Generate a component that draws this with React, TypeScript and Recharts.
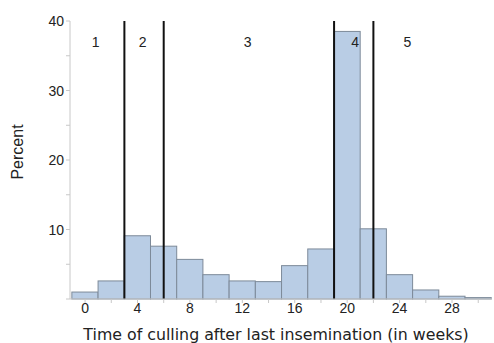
import React from "react";
import {
  ComposedChart, Bar, XAxis, YAxis, ReferenceLine, ReferenceDot,
} from "recharts";

// histogram: bar centres (weeks) and percent of cows
const weeks = [0, 2, 4, 6, 8, 10, 12, 14, 16, 18, 20, 22, 24, 26, 28, 30];
const percent = [1.0, 2.6, 9.1, 7.6, 5.7, 3.5, 2.6, 2.5, 4.8, 7.2, 38.5, 10.1, 3.5, 1.3, 0.4, 0.2];

// period boundaries and their labels
const cutoffs = [3, 6, 19, 22];
const periodLabels = ["1", "2", "3", "4", "5"];
const periodX = [0.8, 4.4, 12.4, 20.6, 24.6];
const periodY = 37;

const xTicks = [0, 2, 4, 6, 8, 10, 12, 14, 16, 18, 20, 22, 24, 26, 28, 30];
const xMajor = [0, 4, 8, 12, 16, 20, 24, 28];
const yTicks = [0, 5, 10, 15, 20, 25, 30, 35, 40];
const yMajor = [10, 20, 30, 40];

const W = 494;
const H = 343;
const M = { top: 21, right: 2, bottom: 0, left: 30 };
const X_H = 44;
const Y_W = 40;
const X_DOMAIN: [number, number] = [-1.15, 31.05];
const plotW = W - M.left - Y_W - M.right;
const barW = (2 * plotW) / (X_DOMAIN[1] - X_DOMAIN[0]);

const data = weeks.map((w, i) => ({ week: w, pct: percent[i] }));

const tickFont = "Liberation Sans";

const XTick = (p: any) => {
  const v = p.payload.value;
  if (!xMajor.includes(v)) return null;
  return (
    <text x={p.x} y={p.y + 8} textAnchor="middle" fontSize={14} fill="#222" fontFamily={tickFont}>
      {v}
    </text>
  );
};

const YTick = (p: any) => {
  const v = p.payload.value;
  if (!yMajor.includes(v)) return null;
  return (
    <text x={p.x} y={p.y + 5} textAnchor="end" fontSize={14} fill="#222" fontFamily={tickFont}>
      {v}
    </text>
  );
};

// histogram bins touch each other: keep the centre recharts gives, use full bin width
const HistBar = (p: any) => {
  const cx = p.x + p.width / 2;
  return (
    <rect
      x={cx - barW / 2}
      y={p.y}
      width={barW}
      height={Math.max(p.height, 0)}
      fill="#b9cde5"
      stroke="#7d8a99"
      strokeWidth={1}
    />
  );
};

const YTitle = (p: any) => {
  const vb = p.viewBox;
  const cx = 17;
  const cy = vb.y + vb.height / 2 - 8;
  return (
    <text
      x={cx}
      y={cy}
      transform={`rotate(-90 ${cx} ${cy})`}
      textAnchor="middle"
      dominantBaseline="central"
      fontSize={16}
      fill="#222"
      fontFamily={tickFont}
    >
      Percent
    </text>
  );
};

export default function App() {
  return (
    <div style={{ width: W, height: H, background: "#fff" }}>
      <style>{"body{margin:0}"}</style>
      <ComposedChart width={W} height={H} data={data} margin={M} barCategoryGap={0}>
        <XAxis
          dataKey="week"
          type="number"
          height={X_H}
          domain={X_DOMAIN}
          allowDataOverflow
          ticks={xTicks}
          interval={0}
          tick={<XTick />}
          tickSize={4}
          stroke="#c8c8c8"
          label={{
            value: "Time of culling after last insemination (in weeks)",
            position: "insideBottom",
            offset: 3,
            dx: -5,
            fill: "#222",
            fontSize: 15.8,
            fontFamily: "DejaVu Sans",
          }}
        />
        <YAxis
          width={Y_W}
          type="number"
          domain={[0, 40]}
          ticks={yTicks}
          interval={0}
          tick={<YTick />}
          tickSize={4}
          stroke="#c8c8c8"
          label={<YTitle />}
        />
        <Bar dataKey="pct" shape={<HistBar />} isAnimationActive={false} />
        {cutoffs.map((c) => (
          <ReferenceLine key={c} x={c} stroke="#111" strokeWidth={2} />
        ))}
        {periodLabels.map((t, i) => (
          <ReferenceDot
            key={t}
            x={periodX[i]}
            y={periodY}
            r={0}
            fill="none"
            stroke="none"
            label={{ value: t, position: "center", fill: "#222", fontSize: 14, fontFamily: tickFont }}
          />
        ))}
      </ComposedChart>
    </div>
  );
}
